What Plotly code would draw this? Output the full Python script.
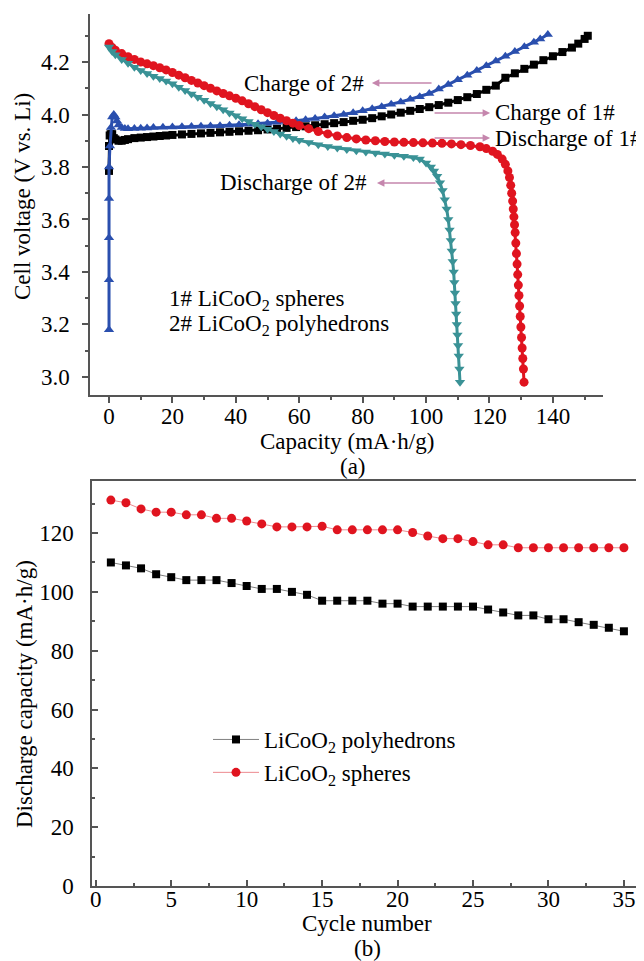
import plotly.graph_objects as go

# ---------------- Panel (a) data: voltage profiles ----------------
charge1_cap = [0, 0, 0.2, 0.5, 1, 1.5, 2, 3, 4, 5, 6, 8, 10, 12, 14, 16, 18, 20, 23, 26, 29, 32, 35, 38, 41,
               44, 47, 50, 53, 56, 59, 62, 65, 68, 71, 74, 77, 80, 83, 86, 89, 92, 95, 98, 101, 104, 107,
               110, 113, 116, 119, 122, 125, 128, 131, 134, 137, 140, 143, 146, 148, 150, 151]
charge1_v = [3.785, 3.88, 3.92, 3.925, 3.925, 3.91, 3.905, 3.90, 3.90, 3.903, 3.906, 3.91, 3.912, 3.914,
             3.916, 3.918, 3.92, 3.922, 3.924, 3.926, 3.928, 3.93, 3.932, 3.934, 3.936, 3.938, 3.94, 3.943,
             3.946, 3.949, 3.952, 3.955, 3.959, 3.963, 3.967, 3.971, 3.976, 3.98, 3.986, 3.993, 4.0, 4.007,
             4.014, 4.021, 4.028, 4.036, 4.045, 4.055, 4.066, 4.078, 4.094, 4.11, 4.14, 4.157, 4.174, 4.19,
             4.207, 4.222, 4.238, 4.255, 4.27, 4.288, 4.30]

charge2_cap = [0, 0, 0, 0, 0, 0.3, 0.6, 1, 1.5, 2, 2.5, 3, 4, 5, 6, 8, 10, 12, 14, 17, 20, 23, 26, 29, 32, 35,
               38, 41, 44, 47, 50, 53, 56, 59, 62, 65, 68, 71, 74, 77, 80, 83, 86, 89, 92, 95, 98, 101, 104,
               107, 110, 113, 116, 119, 122, 125, 128, 131, 134, 136, 138.4]
charge2_v = [3.18, 3.37, 3.53, 3.68, 3.80, 3.88, 3.95, 3.99, 4.0, 3.99, 3.975, 3.96, 3.95, 3.947, 3.946,
             3.947, 3.948, 3.949, 3.95, 3.951, 3.952, 3.953, 3.954, 3.955, 3.956, 3.957, 3.959, 3.961,
             3.963, 3.965, 3.967, 3.97, 3.973, 3.976, 3.98, 3.985, 3.99, 3.995, 4.0, 4.007, 4.014, 4.022,
             4.03, 4.039, 4.048, 4.058, 4.068, 4.08, 4.097, 4.114, 4.132, 4.15, 4.168, 4.186, 4.204, 4.222,
             4.24, 4.258, 4.275, 4.288, 4.305]

discharge1_cap = [0, 1, 2, 4, 6, 8, 10, 12, 14, 16, 18, 20, 22, 24, 26, 28, 30, 32, 34, 36, 38, 40, 42, 44,
                  46, 48, 50, 52, 54, 56, 58, 60, 63, 66, 69, 72, 75, 78, 81, 84, 87, 90, 93, 96, 99, 102,
                  105, 108, 111, 114, 117, 119, 121, 122.5, 124, 125, 125.8, 126.3, 126.7, 127, 127.3,
                  127.5, 127.7, 127.9, 128.1, 128.3, 128.5, 128.7, 128.9, 129.1, 129.3, 129.5, 129.7,
                  129.9, 130.1, 130.3, 130.5, 130.7, 130.9]
discharge1_v = [4.27, 4.255, 4.245, 4.232, 4.22, 4.21, 4.2, 4.193, 4.186, 4.178, 4.17, 4.16, 4.15, 4.14,
                4.13, 4.12, 4.11, 4.1, 4.09, 4.08, 4.071, 4.062, 4.052, 4.041, 4.03, 4.018, 4.007, 3.996,
                3.986, 3.976, 3.967, 3.958, 3.946, 3.935, 3.926, 3.918, 3.912, 3.907, 3.903, 3.9, 3.897,
                3.895, 3.894, 3.893, 3.892, 3.891, 3.89, 3.888, 3.885, 3.882, 3.877, 3.87, 3.86, 3.848,
                3.83, 3.81, 3.785, 3.76, 3.73, 3.70, 3.67, 3.64, 3.61, 3.58, 3.55, 3.51, 3.47, 3.43, 3.39,
                3.35, 3.31, 3.27, 3.23, 3.19, 3.15, 3.11, 3.07, 3.03, 2.98]

discharge2_cap = [0, 1, 2, 4, 6, 8, 10, 12, 14, 16, 18, 20, 22, 24, 26, 28, 30, 32, 34, 36, 38, 40, 42, 44,
                  46, 48, 50, 52, 54, 56, 58, 60, 63, 66, 69, 72, 75, 78, 81, 84, 87, 90, 93, 96, 98, 100,
                  101.5, 102.5, 103.5, 104.4, 105.2, 105.9, 106.5, 107, 107.4, 107.8, 108.1, 108.4, 108.7,
                  108.9, 109.1, 109.3, 109.5, 109.7, 109.9, 110.1, 110.3, 110.5, 110.7]
discharge2_v = [4.257, 4.24, 4.228, 4.21, 4.195, 4.18, 4.168, 4.156, 4.146, 4.137, 4.128, 4.117, 4.104,
                4.091, 4.078, 4.066, 4.054, 4.042, 4.03, 4.018, 4.006, 3.995, 3.984, 3.973, 3.963, 3.953,
                3.944, 3.935, 3.926, 3.917, 3.909, 3.902, 3.893, 3.885, 3.878, 3.872, 3.867, 3.862, 3.857,
                3.853, 3.849, 3.845, 3.841, 3.836, 3.83, 3.815, 3.80, 3.785, 3.765, 3.74, 3.71, 3.675,
                3.64, 3.60, 3.56, 3.52, 3.48, 3.44, 3.40, 3.36, 3.32, 3.28, 3.24, 3.20, 3.16, 3.12, 3.08,
                3.03, 2.98]

# ---------------- Panel (b) data: cycling ----------------
cycles = list(range(1, 36))
poly_capacity = [110, 109, 108, 106, 105, 104, 104, 104, 103, 102, 101, 101, 100, 99, 97, 97, 97, 97, 96,
                 96, 95, 95, 95, 95, 95, 94, 93, 92, 92, 90.7, 90.7, 89.7, 88.8, 87.8, 86.6]
sphere_capacity = [131.2, 130.3, 128.2, 127.1, 127.1, 126.2, 126.2, 125, 125, 124.1, 123.1, 122.1, 122.1,
                   122.1, 122.3, 121.1, 121.1, 121.1, 121.1, 121.1, 120.2, 119, 118.1, 118.1, 117.1, 116,
                   116, 115, 115, 115, 115, 115, 115, 115, 115]

FONT = "Liberation Serif"
FS = 23
AXC = "#555555"
ARROW = "#c586ad"

fig = go.Figure()

top = [
    (charge1_cap, charge1_v, "square", "#000000", "Charge of 1#", 8),
    (charge2_cap, charge2_v, "triangle-up", "#2a4fae", "Charge of 2#", 9),
    (discharge1_cap, discharge1_v, "circle", "#e0141f", "Discharge of 1#", 9),
    (discharge2_cap, discharge2_v, "triangle-down", "#3a9296", "Discharge of 2#", 9),
]
for xs, ys, sym, col, nm, ms in top:
    fig.add_trace(go.Scatter(x=xs, y=ys, mode="lines+markers", name=nm, showlegend=False,
                             line=dict(color=col, width=3),
                             marker=dict(symbol=sym, size=ms, color=col, line=dict(width=0)),
                             xaxis="x", yaxis="y"))

fig.add_trace(go.Scatter(x=cycles, y=poly_capacity, mode="lines+markers",
                         name="LiCoO<sub>2</sub> polyhedrons",
                         line=dict(color="#808080", width=1),
                         marker=dict(symbol="square", size=8, color="#000000"),
                         xaxis="x2", yaxis="y2"))
fig.add_trace(go.Scatter(x=cycles, y=sphere_capacity, mode="lines+markers",
                         name="LiCoO<sub>2</sub> spheres",
                         line=dict(color="#ec8a8f", width=1),
                         marker=dict(symbol="circle", size=9, color="#e0141f"),
                         xaxis="x2", yaxis="y2"))

# page body has an 8px margin: figure is drawn from (8, 8) of the window
OFF = 8
W, H = 644 - OFF, 961 - OFF
def px(x): return (x - OFF) / W
def py(y): return 1 - (y - OFF) / H

axis_common = dict(showline=True, linecolor=AXC, linewidth=1.5, showgrid=False, zeroline=False,
                   automargin=False,
                   tickcolor=AXC, tickwidth=1.5, tickfont=dict(family=FONT, size=FS, color="black"))

fig.update_layout(
    width=W, height=H, margin=dict(l=0, r=0, t=0, b=0, autoexpand=False),
    paper_bgcolor="white", plot_bgcolor="white",
    font=dict(family=FONT, size=FS, color="black"),
    xaxis=dict(domain=[px(90), px(603)], range=[-6, 155.8], anchor="y",
               tickmode="linear", tick0=0, dtick=20, ticks="outside", ticklen=6,
               ticklabelstandoff=-6,
               minor=dict(dtick=10, ticks="outside", ticklen=3, tickcolor=AXC, tickwidth=1.5),
               **axis_common),
    yaxis=dict(domain=[py(395), py(14)], range=[2.931, 4.383], anchor="x",
               tickmode="linear", tick0=3.0, dtick=0.2, tickformat=".1f", ticks="outside", ticklen=6,
               ticklabelstandoff=8,
               minor=dict(dtick=0.1, ticks="outside", ticklen=3, tickcolor=AXC, tickwidth=1.5),
               **axis_common),
    xaxis2=dict(domain=[px(92), px(639)], range=[-0.25, 36], anchor="y2",
                tickmode="linear", tick0=0, dtick=5, ticks="inside", ticklen=6, mirror=True,
                ticklabelstandoff=-8,
                minor=dict(dtick=2.5, ticks="inside", ticklen=3, tickcolor=AXC, tickwidth=1.5),
                **axis_common),
    yaxis2=dict(domain=[py(886), py(481)], range=[0, 137.7], anchor="x2",
                tickmode="linear", tick0=0, dtick=20, ticks="inside", ticklen=6, mirror=True,
                ticklabelstandoff=12,
                minor=dict(dtick=10, ticks="inside", ticklen=3, tickcolor=AXC, tickwidth=1.5),
                **axis_common),
    legend=dict(x=px(208), y=py(718), xanchor="left", yanchor="top", bgcolor="rgba(0,0,0,0)",
                font=dict(family=FONT, size=FS), tracegroupgap=0, itemwidth=46),
)

# axis titles and panel labels (window pixel positions converted to paper)
titles = [
    ("Capacity (mA·h/g)", 347, 441, 0),
    ("(a)", 353, 466, 0),
    ("Cell voltage (V vs. Li)", 22, 197, -90),
    ("Cycle number", 367, 923, 0),
    ("(b)", 367, 948, 0),
    ("Discharge capacity (mA·h/g)", 24, 694, -90),
]
for t, x, y, ang in titles:
    fig.add_annotation(text=t, x=px(x), y=py(y), xref="paper", yref="paper", showarrow=False,
                       textangle=ang, xanchor="center", yanchor="middle",
                       font=dict(family=FONT, size=FS, color="black"))

# text labels on panel (a)
labels = [
    ("Charge of 2#", 41.9, 4.12),
    ("Charge of 1#", 121.1, 4.006),
    ("Discharge of 1#", 121.1, 3.91),
    ("Discharge of 2#", 34.4, 3.739),
    ("1# LiCoO<sub>2</sub> spheres", 18.3, 3.292),
    ("2# LiCoO<sub>2</sub> polyhedrons", 18.3, 3.196),
]
for t, x, y in labels:
    fig.add_annotation(text=t, x=x, y=y, xref="x", yref="y", xanchor="left", yanchor="middle",
                       showarrow=False, font=dict(family=FONT, size=FS, color="black"))

# arrows (head, tail) in data coords
arrows = [
    (82.9, 102.2, 4.12),
    (120.2, 102.2, 4.006),
    (120.2, 102.2, 3.91),
    (84.5, 103.4, 3.739),
]
for hx, tx, y in arrows:
    fig.add_annotation(text="", x=hx, y=y, ax=tx, ay=y, xref="x", yref="y", axref="x", ayref="y",
                       showarrow=True, arrowhead=2, arrowsize=1, arrowwidth=1.5, arrowcolor=ARROW)

fig.write_html("out.html")
